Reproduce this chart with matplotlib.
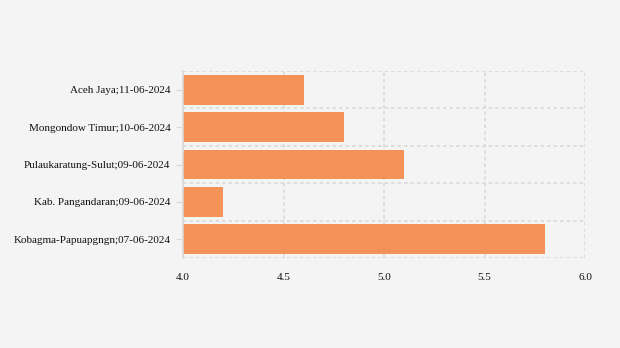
import matplotlib
matplotlib.use('Agg')
import matplotlib.pyplot as plt

labels = ['Aceh Jaya;11-06-2024', 'Mongondow Timur;10-06-2024',
          'Pulaukaratung-Sulut;09-06-2024', 'Kab. Pangandaran;09-06-2024',
          'Kobagma-Papuapgngn;07-06-2024']
values = [4.6, 4.8, 5.1, 4.2, 5.8]

plt.rcParams['font.family'] = ['Liberation Serif', 'DejaVu Serif']

fig = plt.figure(figsize=(6.2, 3.48), dpi=100)
fig.patch.set_facecolor('#f4f4f4')
ax = fig.add_axes([183 / 620, 1 - 258 / 348, 402 / 620, 187 / 348])
ax.set_facecolor('#f4f4f4')

ypos = list(range(len(labels)))
ax.barh(ypos, [v - 4.0 for v in values], left=4.0, height=0.8,
        color='#f58a4b', alpha=0.92, zorder=2)

ax.set_xlim(4.0, 6.0)
ax.set_ylim(len(labels) - 0.5, -0.5)
ax.set_xticks([4.0, 4.5, 5.0, 5.5, 6.0])
ax.set_xticklabels(['4.0', '4.5', '5.0', '5.5', '6.0'])
ax.set_yticks(ypos)
ax.set_yticklabels(labels)

# grid between categories and at x ticks
for b in [i - 0.5 for i in range(len(labels) + 1)]:
    ax.axhline(b, color='#dcdcdc', linestyle=(0, (2, 1.6)), linewidth=1.3, zorder=1)
for x in [4.5, 5.0, 5.5, 6.0]:
    ax.axvline(x, color='#dcdcdc', linestyle=(0, (2, 1.6)), linewidth=1.3, zorder=1)

for s in ['top', 'right', 'bottom']:
    ax.spines[s].set_visible(False)
ax.spines['left'].set_color('#d8d8d8')
ax.spines['left'].set_linewidth(1.2)

ax.tick_params(axis='y', length=5, color='#d8d8d8', labelsize=8, pad=4, labelcolor='#111111')
ax.tick_params(axis='x', length=0, labelsize=8, pad=11, labelcolor='#111111')

plt.savefig('out.png', dpi=100, facecolor=fig.get_facecolor())
